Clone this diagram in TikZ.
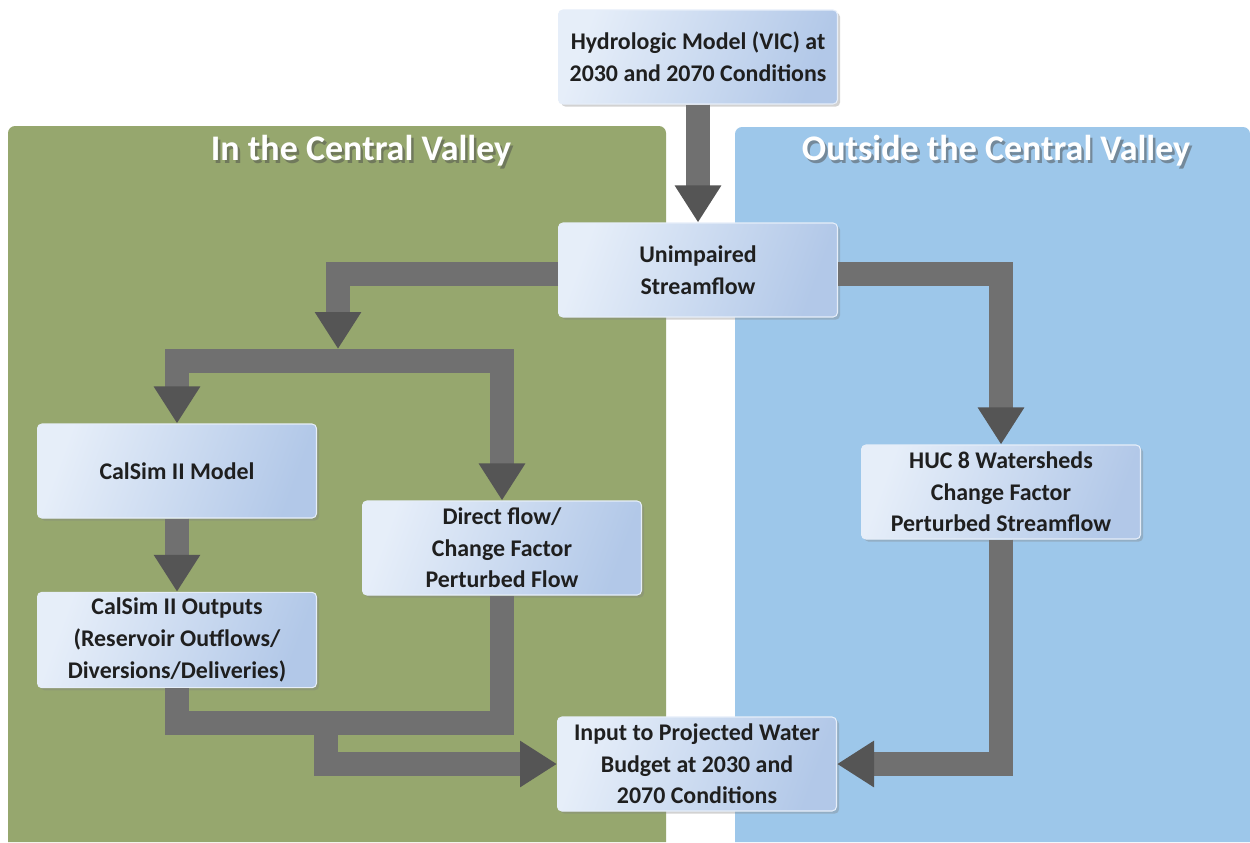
\documentclass[tikz,border=0pt]{standalone}
\usepackage{fontspec}
\setmainfont{Carlito}
\usetikzlibrary{arrows.meta}
\usetikzlibrary{shadows}
\definecolor{valleyGreen}{RGB}{150,167,110}
\definecolor{outsideBlue}{RGB}{157,199,234}
\definecolor{boxLight}{RGB}{230,238,249}
\definecolor{boxDark}{RGB}{178,200,232}
\definecolor{flowColor}{RGB}{112,112,112}
\definecolor{flowHead}{RGB}{85,85,85}

\begin{document}
\begin{tikzpicture}[x=0.02cm,y=-0.02cm]

          \tikzstyle{stepBox} = [rounded corners=2.5pt, draw=boxLight, line width=0.6pt,
            left color=boxLight, right color=boxDark, shading angle=70,
            minimum width=5.58cm, minimum height=1.88cm, align=center,
            font=\bfseries\fontsize{13.6}{18}\selectfont, text=black!88,
            drop shadow={shadow xshift=1.5pt, shadow yshift=-1.5pt, opacity=0.35}];
          \tikzstyle{panelTitle} = [white, font=\bfseries\fontsize{20.5}{24}\selectfont];
          \tikzstyle{titleShadow} = [black!70, opacity=0.5, font=\bfseries\fontsize{20.5}{24}\selectfont];

          \tikzstyle{flowBar} = [draw=flowColor, line width=0.48cm];
          \tikzstyle{flowArrow} = [flowBar, -{Triangle[width=0.88cm, length=0.74cm, color=flowHead, fill=flowHead]}];

          \useasboundingbox[fill=white] (0,0) rectangle (1250,842);
          \fill[valleyGreen] (8,842) {[rounded corners=4pt] -- (8,126) -- (666,126)} -- (666,842) -- cycle;
          \fill[outsideBlue] (735,842) {[rounded corners=4pt] -- (735,127) -- (1250,127)} -- (1250,842) -- cycle;

          \node[titleShadow, xshift=1.4pt, yshift=-1.4pt] (inShadow) at (361,151) {In the Central Valley};
          \node[panelTitle] (inTitle) at (361,151) {In the Central Valley};
          \node[titleShadow, xshift=1.4pt, yshift=-1.4pt] (outShadow) at (996,151) {Outside the Central Valley};
          \node[panelTitle] (outTitle) at (996,151) {Outside the Central Valley};

          \node[stepBox] (hydro) at (698,57) {Hydrologic Model (VIC) at\\2030 and 2070 Conditions};
          \node[stepBox] (unimp) at (698,270) {Unimpaired\\Streamflow};
          \node[stepBox] (calsim) at (177,471) {CalSim II Model};
          \node[stepBox] (direct) at (502,548) {Direct flow/\\Change Factor\\Perturbed Flow};
          \node[stepBox] (outputs) at (177,640) {CalSim II Outputs\\(Reservoir Outflows/\\Diversions/Deliveries)};
          \node[stepBox] (input) at (697,764) {Input to Projected Water\\Budget at 2030 and\\2070 Conditions};
          \node[stepBox] (huc) at (1001,492) {HUC 8 Watersheds\\Change Factor\\Perturbed Streamflow};

          \coordinate (split) at (338,349);
          \coordinate (branch) at (338,361);
          \coordinate (merge) at (326,723);

          \draw[flowArrow] (hydro) -- (unimp);
          \draw[flowArrow] ([yshift=-0.08cm]unimp.west) -| (split);
          \draw[flowArrow] (branch) -| (calsim);
          \draw[flowArrow] (branch) -| (direct);
          \draw[flowArrow] (calsim) -- (outputs);
          \draw[flowBar] (outputs) |- (merge) -| (direct);
          \draw[flowArrow] (merge) |- (input);
          \draw[flowArrow] ([yshift=-0.08cm]unimp.east) -| (huc);
          \draw[flowArrow] (huc) |- (input);
        \end{tikzpicture}
\end{document}
